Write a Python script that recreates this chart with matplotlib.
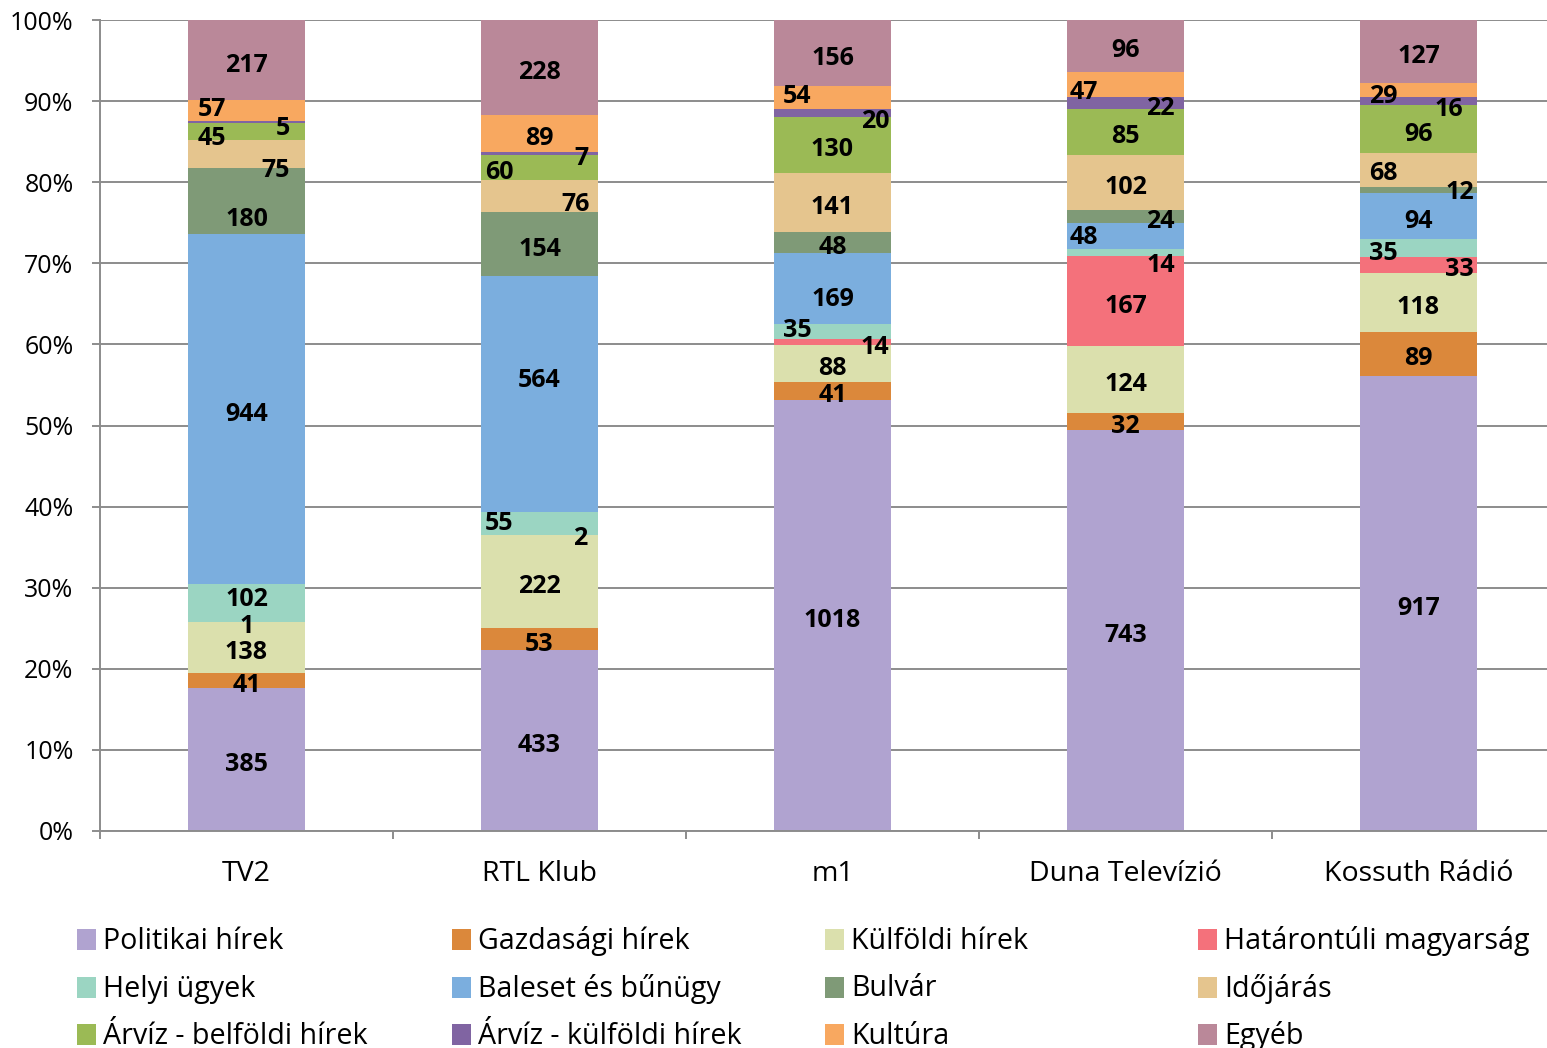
import matplotlib.pyplot as plt
from matplotlib.patches import Rectangle
import numpy as np

plt.rcParams['font.family'] = ['Open Sans', 'DejaVu Sans']

categories = ['TV2', 'RTL Klub', 'm1', 'Duna Televízió', 'Kossuth Rádió']
series_names = ['Politikai hírek', 'Gazdasági hírek', 'Külföldi hírek', 'Határontúli magyarság',
                'Helyi ügyek', 'Baleset és bűnügy', 'Bulvár', 'Időjárás',
                'Árvíz - belföldi hírek', 'Árvíz - külföldi hírek', 'Kultúra', 'Egyéb']

politikai = [385, 433, 1018, 743, 917]
gazdasagi = [41, 53, 41, 32, 89]
kulfoldi = [138, 222, 88, 124, 118]
hatarontuli = [1, 2, 14, 167, 33]
helyi = [102, 55, 35, 14, 35]
baleset = [944, 564, 169, 48, 94]
bulvar = [180, 154, 48, 24, 12]
idojaras = [75, 76, 141, 102, 68]
arviz_bel = [45, 60, 130, 85, 96]
arviz_kul = [5, 7, 20, 22, 16]
kultura = [57, 89, 54, 47, 29]
egyeb = [217, 228, 156, 96, 127]

colors = ['#B0A3D0', '#DB883B', '#DBE0AD', '#F4717B', '#9BD5C2', '#7BAEDE',
          '#7F9A77', '#E5C58E', '#9BBA55', '#8064A2', '#F8A860', '#BA8899']

# hand-moved data labels (bar, series) -> (dx, dy) in pixels, dy down
nudges = {
    (0, 4): (0, -8), (0, 6): (0, 13), (0, 7): (29, 12), (0, 8): (-35, 2),
    (0, 9): (36, 1), (0, 10): (-35, -6),
    (1, 3): (41, -2), (1, 4): (-40, -5), (1, 5): (0, -18), (1, 7): (36, 3),
    (1, 8): (-40, 0), (1, 9): (42, 0),
    (2, 3): (42, 0), (2, 4): (-35, -6), (2, 5): (0, 6), (2, 9): (43, 3),
    (2, 10): (-35, -6),
    (3, 4): (35, 8), (3, 5): (-42, -3), (3, 6): (35, 0), (3, 9): (35, 0),
    (3, 10): (-42, 3),
    (4, 3): (41, 0), (4, 4): (-35, 0), (4, 6): (41, -2), (4, 7): (-35, -1),
    (4, 9): (30, 3), (4, 10): (-35, 1),
}

counts = np.array([politikai, gazdasagi, kulfoldi, hatarontuli, helyi, baleset,
                   bulvar, idojaras, arviz_bel, arviz_kul, kultura, egyeb], dtype=float)
pct = counts / counts.sum(axis=0) * 100
x = np.arange(len(categories))

W, H = 1547, 1048
fig = plt.figure(figsize=(W / 100, H / 100), dpi=100)
ax = fig.add_axes([100 / W, 217 / H, 1465 / W, 811 / H])

grid_c = '#8c8c8c'
bottom = np.zeros(len(categories))
for i, name in enumerate(series_names):
    ax.bar(x, pct[i], bottom=bottom, width=0.4, color=colors[i], label=name, zorder=2)
    for j in range(len(categories)):
        dx, dy = nudges.get((j, i), (0, 0))
        ax.annotate(f'{int(counts[i, j])}', xy=(x[j], bottom[j] + pct[i, j] / 2),
                    xytext=(dx, -dy - 5), textcoords='offset pixels',
                    ha='center', va='center', fontsize=18, fontweight='bold',
                    color='black', zorder=3)
    bottom += pct[i]

ax.set_xlim(-0.5, 4.5)
ax.set_ylim(0, 100)
ax.set_yticks(np.arange(0, 101, 10))
ax.set_yticklabels([f'{v}%' for v in range(0, 101, 10)])
ax.set_xticks(x)
ax.set_xticklabels(categories)
ax.set_xticks(np.arange(-0.5, 5, 1), minor=True)
ax.tick_params(axis='x', which='major', length=0, pad=21, labelsize=20.5)
ax.tick_params(axis='x', which='minor', length=6, width=1.4, color=grid_c)
ax.tick_params(axis='y', length=6, width=1.4, color=grid_c, pad=13, labelsize=18)

ax.yaxis.grid(True, color=grid_c, lw=1.4, zorder=0)
ax.set_axisbelow(True)
for s in ['top', 'right']:
    ax.spines[s].set_visible(False)
for s in ['left', 'bottom']:
    ax.spines[s].set_color(grid_c)
    ax.spines[s].set_linewidth(1.4)

# legend laid out like the original: 4 equal columns, row by row
col_x = [77, 452, 825, 1198]
row_top = [929, 976.5, 1024]
for k, name in enumerate(series_names):
    cx, ry = col_x[k % 4], row_top[k // 4]
    fig.add_artist(Rectangle((cx / W, 1 - (ry + 21) / H), 19 / W, 21 / H,
                             transform=fig.transFigure, color=colors[k], lw=0))
    fig.text((cx + 26) / W, 1 - (ry + 20) / H, name, fontsize=20.6,
             ha='left', va='baseline')

fig.savefig('out.png', dpi=100)
